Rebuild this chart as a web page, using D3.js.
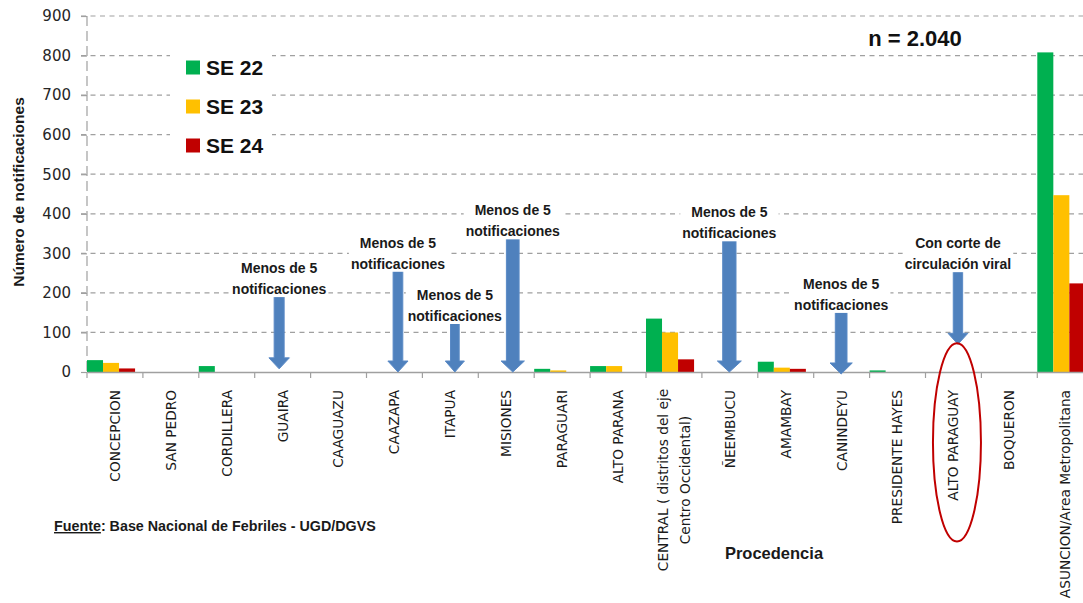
<!DOCTYPE html>
<html>
<head>
<meta charset="utf-8">
<script src="https://cdn.jsdelivr.net/npm/d3@7"></script>
<style>
  html, body { margin: 0; padding: 0; background: #fff; }
  svg { display: block; }
</style>
</head>
<body>
<svg id="chart" width="1083" height="603"></svg>
<script>
// Notificaciones por procedencia, semanas epidemiológicas 22 a 24
const categories = [
  "CONCEPCION", "SAN PEDRO", "CORDILLERA", "GUAIRA", "CAAGUAZU", "CAAZAPA",
  "ITAPUA", "MISIONES", "PARAGUARI", "ALTO PARANA",
  "CENTRAL ( distritos del eje\nCentro Occidental)",
  "ÑEEMBUCU", "AMAMBAY", "CANINDEYU", "PRESIDENTE HAYES", "ALTO PARAGUAY",
  "BOQUERON", "ASUNCION/Area Metropolitana"
];
const seriesNames = ["SE 22", "SE 23", "SE 24"];
const se22 = [30, 0, 15, 0, 0, 0, 0, 0, 8, 15, 135, 0, 26, 0, 4, 0, 0, 808];
const se23 = [23, 0, 0, 0, 0, 0, 0, 0, 4, 15, 100, 0, 11, 0, 0, 0, 0, 447];
const se24 = [9, 0, 0, 0, 0, 0, 0, 0, 0, 0, 32, 0, 8, 0, 0, 0, 0, 224];
const yTicks = [0, 100, 200, 300, 400, 500, 600, 700, 800, 900];
const totalLabel = "n = 2.040";

// Flechas de anotación: procedencia, valor de inicio y valor de la punta
const arrowCats = ["GUAIRA", "CAAZAPA", "ITAPUA", "MISIONES", "ÑEEMBUCU", "CANINDEYU", "ALTO PARAGUAY"];
const arrowFrom = [192, 256, 124, 338, 333, 152, 255];
const arrowTo = [8, 0, 0, 0, 0, -5, 70];
const arrowText = [
  ["Menos de 5", "notificaciones"],
  ["Menos de 5", "notificaciones"],
  ["Menos de 5", "notificaciones"],
  ["Menos de 5", "notificaciones"],
  ["Menos de 5", "notificaciones"],
  ["Menos de 5", "notificaciones"],
  ["Con corte de", "circulación viral"]
];

// Drawing parameters
const colors = ["#00b050", "#ffc000", "#c00000"];
const arrowNudge = [-3.5, 3.5, 4.5, 6.5, -0.5, -0.5, 4.5];
const arrowShaft = [10, 9.7, 8.7, 12.7, 13.3, 11.7, 9.4];
const gridColor = "#a0a0a0";
const textColor = "#1a1a1a";
const boldFont = "'Liberation Sans', Arial, sans-serif";
const tickFont = "'DejaVu Sans', Verdana, sans-serif";

const svg = d3.select("#chart");
const W = 1083;
const plotLeft = 87, plotTop = 16, plotBottom = 372;
const bandStep = 55.9;

const x = d3.scaleBand()
  .domain(categories)
  .range([plotLeft, plotLeft + bandStep * categories.length])
  .paddingInner(0).paddingOuter(0);

const inner = d3.scaleBand()
  .domain(seriesNames)
  .range([0, x.bandwidth() * 0.86])
  .padding(0);

const y = d3.scaleLinear().domain([0, 900]).range([plotBottom, plotTop]);

svg.append("rect").attr("width", W).attr("height", 603).attr("fill", "#fff");

// Horizontal gridlines
svg.append("g")
  .selectAll("line")
  .data(yTicks.filter(d => d > 0))
  .join("line")
  .attr("x1", plotLeft - 6).attr("x2", W)
  .attr("y1", d => y(d)).attr("y2", d => y(d))
  .attr("stroke", gridColor).attr("stroke-width", 1.2)
  .attr("stroke-dasharray", "5,4.5");

// Y axis (dashed line, labels)
const yAxis = d3.axisLeft(y).tickValues(yTicks).tickSize(6).tickPadding(10);
const gy = svg.append("g").attr("transform", `translate(${plotLeft},0)`).call(yAxis);
gy.select(".domain").remove();
gy.selectAll(".tick line").attr("stroke", gridColor).attr("stroke-width", 1.2);
gy.selectAll(".tick text")
  .attr("font-family", tickFont).attr("font-size", 15)
  .attr("fill", "#262626");
svg.append("line")
  .attr("x1", plotLeft).attr("x2", plotLeft)
  .attr("y1", y(900)).attr("y2", plotBottom)
  .attr("stroke", gridColor).attr("stroke-width", 1.2)
  .attr("stroke-dasharray", "10,5");

// Bars
const rows = categories.map((c, i) => ({ cat: c, values: [se22[i], se23[i], se24[i]] }));
svg.append("g")
  .selectAll("g")
  .data(rows)
  .join("g")
  .attr("transform", d => `translate(${x(d.cat)},0)`)
  .selectAll("rect")
  .data(d => d.values.map((v, k) => ({ key: seriesNames[k], v, k })))
  .join("rect")
  .attr("x", d => inner(d.key))
  .attr("width", inner.bandwidth())
  .attr("y", d => y(d.v))
  .attr("height", d => y(0) - y(d.v))
  .attr("fill", d => colors[d.k]);

// X axis
const xAxis = d3.axisBottom(x).tickSize(0).tickFormat("");
const gx = svg.append("g").attr("transform", `translate(0,${plotBottom})`).call(xAxis);
gx.select(".domain").attr("stroke", gridColor).attr("stroke-width", 1.5);
svg.append("g")
  .selectAll("line")
  .data(categories)
  .join("line")
  .attr("x1", d => x(d)).attr("x2", d => x(d))
  .attr("y1", plotBottom).attr("y2", plotBottom + 6)
  .attr("stroke", gridColor).attr("stroke-width", 1.2);

// Category labels, rotated
const labelTop = 390;
const lab = svg.append("g")
  .selectAll("g")
  .data(categories)
  .join("g")
  .attr("transform", d => `translate(${x(d) + x.bandwidth() / 2},${labelTop}) rotate(-90)`);
lab.each(function (d) {
  const lines = d.split("\n");
  const g = d3.select(this);
  if (lines.length === 1) {
    g.append("text")
      .attr("text-anchor", "end")
      .attr("dy", "0.36em")
      .text(d);
  } else {
    const lh = 22;
    const t = g.append("text").attr("text-anchor", "middle");
    // center of the wrapped block along the label direction
    const mid = -90;
    lines.forEach((ln, j) => {
      t.append("tspan")
        .attr("x", mid)
        .attr("y", (j - (lines.length - 1) / 2) * lh)
        .attr("dy", "0.36em")
        .text(ln);
    });
  }
});
lab.selectAll("text")
  .attr("font-family", tickFont).attr("font-size", 13.7)
  .attr("fill", textColor);

// Annotation arrows with their notes
const annot = svg.append("g");
arrowCats.forEach((c, i) => {
  const cx = x(c) + x.bandwidth() / 2 + arrowNudge[i];
  const top = y(arrowFrom[i]);
  const tip = y(arrowTo[i]);
  const sw = arrowShaft[i];
  const hw = sw * 1.05 + 10;
  const hl = 11;
  const pts = [
    [cx - sw / 2, top], [cx + sw / 2, top], [cx + sw / 2, tip - hl],
    [cx + hw / 2, tip - hl], [cx, tip], [cx - hw / 2, tip - hl],
    [cx - sw / 2, tip - hl]
  ];
  annot.append("path")
    .attr("d", d3.line()(pts) + "Z")
    .attr("fill", "#4f81bd")
    .attr("stroke", "#5a8ac6").attr("stroke-width", 1);

  const tg = annot.append("g");
  const bg = tg.append("rect").attr("fill", "#fff");
  const t = tg.append("text")
    .attr("text-anchor", "middle")
    .attr("font-family", boldFont).attr("font-weight", "bold")
    .attr("font-size", 14).attr("fill", textColor);
  arrowText[i].forEach((ln, j) => {
    t.append("tspan")
      .attr("x", cx)
      .attr("y", top - 7 - (arrowText[i].length - 1 - j) * 21)
      .attr("dy", "0.36em")
      .text(ln);
  });
  const bb = t.node().getBBox();
  bg.attr("x", bb.x - 2).attr("y", bb.y)
    .attr("width", bb.width + 4).attr("height", bb.height);
});

// Highlight around ALTO PARAGUAY
{
  const i = arrowCats.indexOf("ALTO PARAGUAY");
  const cx = x("ALTO PARAGUAY") + x.bandwidth() / 2 + 3.5;
  const topY = y(arrowTo[i]) - 1;
  const botY = 541.5;
  svg.append("ellipse")
    .attr("cx", cx).attr("cy", (topY + botY) / 2)
    .attr("rx", 24).attr("ry", (botY - topY) / 2)
    .attr("fill", "none").attr("stroke", "#c00000").attr("stroke-width", 2);
}

// Legend
const legend = svg.append("g");
legend.append("rect")
  .attr("x", 170).attr("y", 45).attr("width", 102).attr("height", 120)
  .attr("fill", "#fff");
seriesNames.forEach((s, k) => {
  const cy = 67.5 + k * 39;
  legend.append("rect")
    .attr("x", 186).attr("y", cy - 7).attr("width", 14).attr("height", 14)
    .attr("fill", colors[k]);
  legend.append("text")
    .attr("x", 206).attr("y", cy).attr("dy", "0.36em")
    .attr("font-family", boldFont).attr("font-weight", "bold")
    .attr("font-size", 21).attr("fill", "#111")
    .text(s);
});

// Total
svg.append("text")
  .attr("x", 915).attr("y", 38).attr("dy", "0.36em")
  .attr("text-anchor", "middle")
  .attr("font-family", boldFont).attr("font-weight", "bold")
  .attr("font-size", 22).attr("fill", "#111")
  .text(totalLabel);

// Axis titles
svg.append("text")
  .attr("transform", `translate(18,192) rotate(-90)`)
  .attr("text-anchor", "middle").attr("dy", "0.36em")
  .attr("font-family", boldFont).attr("font-weight", "bold")
  .attr("font-size", 15.5).attr("fill", textColor)
  .text("Número de notificaciones");

svg.append("text")
  .attr("x", 774).attr("y", 553).attr("dy", "0.36em")
  .attr("text-anchor", "middle")
  .attr("font-family", boldFont).attr("font-weight", "bold")
  .attr("font-size", 16.5).attr("fill", textColor)
  .text("Procedencia");

// Source note
const src = svg.append("text")
  .attr("x", 54).attr("y", 531)
  .attr("font-family", boldFont).attr("font-weight", "bold")
  .attr("font-size", 14.3).attr("fill", textColor);
src.append("tspan").attr("text-decoration", "underline").text("Fuente");
src.append("tspan").text(": Base Nacional de Febriles - UGD/DGVS");
</script>
</body>
</html>
